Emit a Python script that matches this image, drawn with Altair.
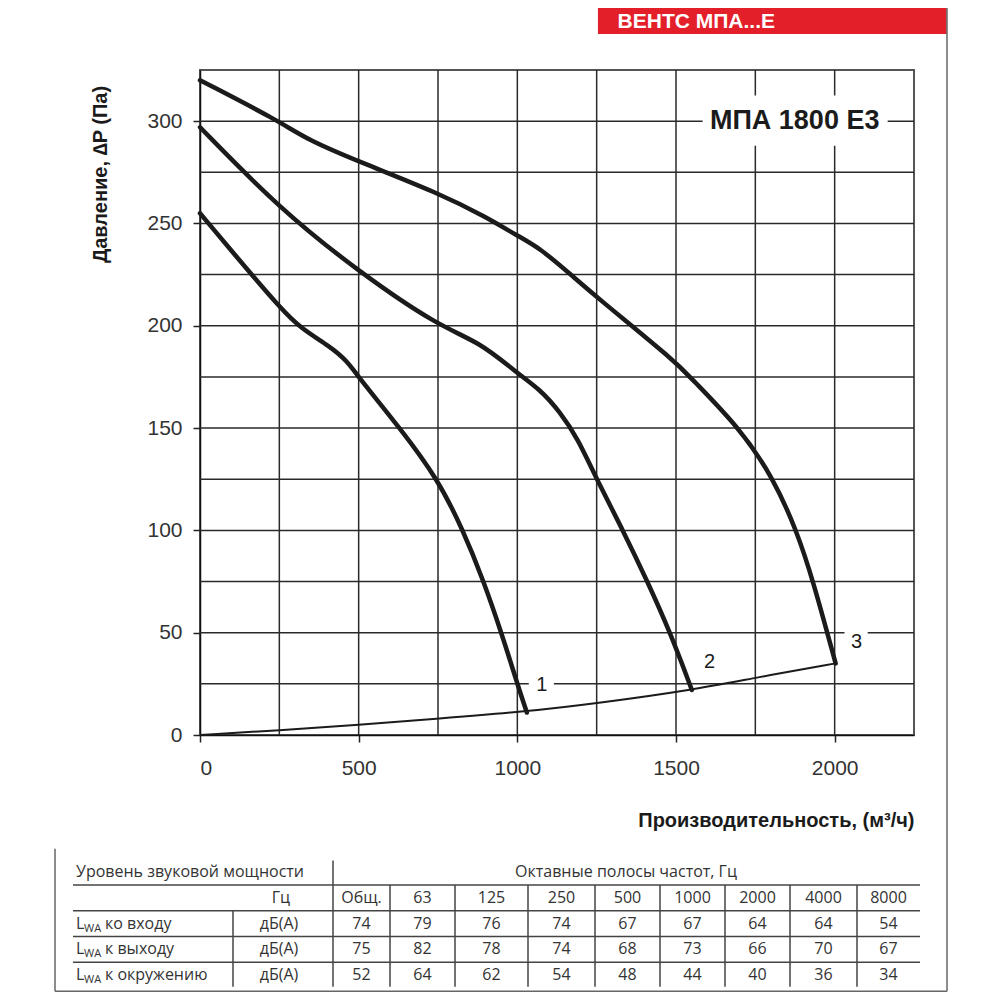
import altair as alt
import pandas as pd

# ---------------- data ----------------
CURVE1_Q = [0, 157, 252, 315, 409, 463, 504, 630, 750, 829, 892, 950, 1002, 1030]
CURVE1_P = [255, 226, 209, 199, 190, 183, 174, 150, 125, 100, 76, 50, 24, 11]
CURVE2_Q = [0, 252, 504, 750, 882, 998, 1071, 1134, 1190, 1250, 1333, 1410, 1482, 1550]
CURVE2_P = [297, 257, 226, 200, 192, 177, 169, 158, 145, 125, 100, 75, 50, 22]
CURVE3_Q = [0, 250, 337, 504, 750, 903, 1000, 1071, 1176, 1250, 1502, 1543, 1701, 1805, 1880, 1931, 2003]
CURVE3_P = [320, 300, 291, 280, 265, 253, 244, 238, 224, 214, 182, 175, 150, 126, 100, 76, 35]
SYSTEM_Q = [0, 250, 500, 750, 1030, 1250, 1550, 1750, 2003]
SYSTEM_P = [0, 2.3, 5, 8, 11.5, 15.5, 22, 28, 35]

CURVE_NAMES = ["1", "2", "3"]
X_TICKS = [0, 500, 1000, 1500, 2000]
Y_TICKS = [0, 50, 100, 150, 200, 250, 300]
GRID_Q = [250, 500, 750, 1000, 1250, 1500, 1750, 2000]
GRID_P = [25, 50, 75, 100, 125, 150, 175, 200, 225, 250, 275, 300]

BANNER = "ВЕНТС МПА...Е"
MODEL = "МПА 1800 Е3"
X_TITLE = "Производительность, (м³/ч)"
Y_TITLE = "Давление, \u2206P (Па)"

TABLE_TITLE_LEFT = "Уровень звуковой мощности"
TABLE_TITLE_RIGHT = "Октавные полосы частот, Гц"
HZ_LABEL = "Гц"
UNIT_LABEL = "дБ(А)"
BANDS = ["Общ.", "63", "125", "250", "500", "1000", "2000", "4000", "8000"]
ROW_LABELS = ["ко входу", "к выходу", "к окружению"]
LWA_INLET = [74, 79, 76, 74, 67, 67, 64, 64, 54]
LWA_OUTLET = [75, 82, 78, 74, 68, 73, 66, 70, 67]
LWA_AMBIENT = [52, 64, 62, 54, 48, 44, 40, 36, 34]

# ---------------- layout constants ----------------
W, H = 714, 665
XMAX, YMAX = 2250, 325
FONT = "Liberation Sans"
TFONT = "Open Sans"
INK = "#1b1b1b"

xs = alt.Scale(domain=[0, XMAX], nice=False, zero=False)
ys = alt.Scale(domain=[0, YMAX], nice=False, zero=False)

x_axis = alt.Axis(values=X_TICKS, grid=False, title=X_TITLE, format="d", labelFontSize=21,
                  labelPadding=15, titleX=W, titleY=85, titleAlign="right",
                  titleBaseline="middle", titleFontSize=20, titleFontWeight="bold")
y_axis = alt.Axis(values=Y_TICKS, grid=False, title=Y_TITLE, format="d", labelFontSize=21,
                  labelPadding=11, titleX=-100, titleY=104, titleAngle=270,
                  titleAlign="center", titleBaseline="middle", titleFontSize=20,
                  titleFontWeight="bold")


def X(field="q"):
    return alt.X(f"{field}:Q", scale=xs, axis=x_axis)


def Y(field="p"):
    return alt.Y(f"{field}:Q", scale=ys, axis=y_axis)


# curves
rows = []
for name, qs, ps in zip(CURVE_NAMES, [CURVE1_Q, CURVE2_Q, CURVE3_Q],
                        [CURVE1_P, CURVE2_P, CURVE3_P]):
    for i, (q, p) in enumerate(zip(qs, ps)):
        rows.append({"curve": name, "q": q, "p": p, "o": i})
curves_df = pd.DataFrame(rows)
sys_df = pd.DataFrame({"q": SYSTEM_Q, "p": SYSTEM_P, "o": range(len(SYSTEM_Q))})

grid_v = alt.Chart(pd.DataFrame({"q": GRID_Q})).mark_rule(
    color="#2a2a2a", strokeWidth=1.5).encode(x=X())
grid_h = alt.Chart(pd.DataFrame({"p": GRID_P})).mark_rule(
    color="#2a2a2a", strokeWidth=1.5).encode(y=Y())

# white patches behind labels placed on grid lines
patch_df = pd.DataFrame({
    "q": [1584, 1036, 2031], "q2": [2167, 1115, 2104],
    "p": [288, 20, 44], "p2": [312.5, 30, 56],
})
patches = alt.Chart(patch_df).mark_rect(color="white").encode(
    x=X(), x2="q2:Q", y=Y(), y2="p2:Q")

system = alt.Chart(sys_df).mark_line(
    color=INK, strokeWidth=2, interpolate="basis").encode(
    x=X(), y=Y(), order="o:Q")
lines = alt.Chart(curves_df).mark_line(
    color=INK, strokeWidth=4.5, interpolate="basis", strokeCap="round",
    strokeJoin="round").encode(x=X(), y=Y(), detail="curve:N", order="o:Q")

lab_df = pd.DataFrame({"t": CURVE_NAMES, "q": [1077, 1606, 2069], "p": [24.4, 35.7, 45.5]})
curve_labels = alt.Chart(lab_df).mark_text(
    font=FONT, fontSize=20, fontWeight=500, color=INK).encode(x=X(), y=Y(), text="t:N")

model = alt.Chart(pd.DataFrame({"t": [MODEL], "q": [1874], "p": [300.3]})).mark_text(
    font=FONT, fontSize=27, fontWeight="bold", color=INK).encode(x=X(), y=Y(), text="t:N")

banner_rect = alt.Chart(pd.DataFrame({"q": [1254], "q2": [2353], "p": [342.6], "p2": [355.5]})).mark_rect(
    color="#e3202a").encode(x=X(), x2="q2:Q", y=Y(), y2="p2:Q")
banner_text = alt.Chart(pd.DataFrame({"t": [BANNER], "q": [1316], "p": [348.5]})).mark_text(
    font=FONT, fontSize=21, fontWeight="bold", color="white", align="left",
    baseline="middle").encode(x=X(), y=Y(), text="t:N")

main = alt.layer(grid_v, grid_h, patches, system, lines, curve_labels, model,
                 banner_rect, banner_text)

# ---------------- table (its own scales, below the plot) ----------------
ROW_H = 25.8
ROW0 = 802  # distance of table row 0 below the plot top
tys = alt.Scale(domain=[-ROW0 / ROW_H, (H - ROW0) / ROW_H], reverse=True, nice=False, zero=False)
txs = alt.Scale(domain=[0, W], nice=False, zero=False)

COL_EDGES = [133, 190, 255, 328, 395, 460, 525, 590, 657, 720]
COL_MID = [(a + b) / 2 for a, b in zip(COL_EDGES[:-1], COL_EDGES[1:])]
LEFT = -127
SPLIT = 33


def TX(f="x"):
    return alt.X(f"{f}:Q", scale=txs, axis=None)


def TY(f="y"):
    return alt.Y(f"{f}:Q", scale=tys, axis=None)


hl = pd.DataFrame({"x": [LEFT] * 4, "x2": [COL_EDGES[-1]] * 4, "y": [0.5, 1.5, 2.5, 3.5]})
h_rules = alt.Chart(hl).mark_rule(color="#444", strokeWidth=1.5).encode(
    x=TX(), x2="x2:Q", y=TY())
vl = pd.DataFrame({
    "x": [COL_EDGES[0], SPLIT] + COL_EDGES[1:-1],
    "y": [-0.45, 1.5] + [0.5] * (len(COL_EDGES) - 2),
    "y2": [4.45] * len(COL_EDGES),
})
v_rules = alt.Chart(vl).mark_rule(color="#444", strokeWidth=1.5).encode(
    x=TX(), y=TY(), y2="y2:Q")

frame = pd.DataFrame({
    "x": [747, -145, -145], "x2": [747, 747, -145],
    "y": [-33.6, 4.62, -0.9], "y2": [4.62, 4.62, 4.62],
})
frame_rules = alt.Chart(frame).mark_rule(color="#666", strokeWidth=1.5).encode(
    x=TX(), x2="x2:Q", y=TY(), y2="y2:Q")

texts = [
    {"x": -124, "y": 0, "t": TABLE_TITLE_LEFT, "a": "left"},
    {"x": 426, "y": 0, "t": TABLE_TITLE_RIGHT, "a": "center"},
    {"x": 90, "y": 1, "t": HZ_LABEL, "a": "right"},
]
for m, b in zip(COL_MID, BANDS):
    texts.append({"x": m, "y": 1, "t": b, "a": "center"})
for r, (lab, vals) in enumerate(zip(ROW_LABELS, [LWA_INLET, LWA_OUTLET, LWA_AMBIENT])):
    yy = 2 + r
    texts.append({"x": -124, "y": yy, "t": "L", "a": "left"})
    texts.append({"x": -95, "y": yy, "t": lab, "a": "left"})
    texts.append({"x": 79, "y": yy, "t": UNIT_LABEL, "a": "center"})
    for m, v in zip(COL_MID, vals):
        texts.append({"x": m, "y": yy, "t": str(v), "a": "center"})
tdf = pd.DataFrame(texts)


def tlayer(align):
    return alt.Chart(tdf[tdf["a"] == align]).mark_text(
        font=TFONT, fontSize=16, color="#333", align=align, baseline="middle").encode(
        x=TX(), y=TY(), text="t:N")


sub_df = pd.DataFrame({"x": [-116] * 3, "y": [2, 3, 4], "t": ["WA"] * 3})
subs = alt.Chart(sub_df).mark_text(
    font=TFONT, fontSize=11, color="#333", align="left", baseline="middle", dy=5).encode(
    x=TX(), y=TY(), text="t:N")

table = alt.layer(h_rules, v_rules, frame_rules, tlayer("left"), tlayer("center"),
                  tlayer("right"), subs)

chart = alt.layer(main, table).resolve_scale(x="independent", y="independent").properties(
    width=W, height=H,
    autosize=alt.AutoSizeParams(type="none"),
    padding={"left": 192, "top": 62, "right": 78, "bottom": 257},
).configure_view(
    stroke="#555", strokeWidth=2
).configure_axis(
    domainColor="#111", domainWidth=1.5, tickColor="#222", tickWidth=1.5, tickSize=7,
    labelFont=FONT, labelColor="#333", titleFont=FONT, titleColor="#1b1b1b",
)

chart.save("out.html", embed_options={"renderer": "svg", "actions": False})
